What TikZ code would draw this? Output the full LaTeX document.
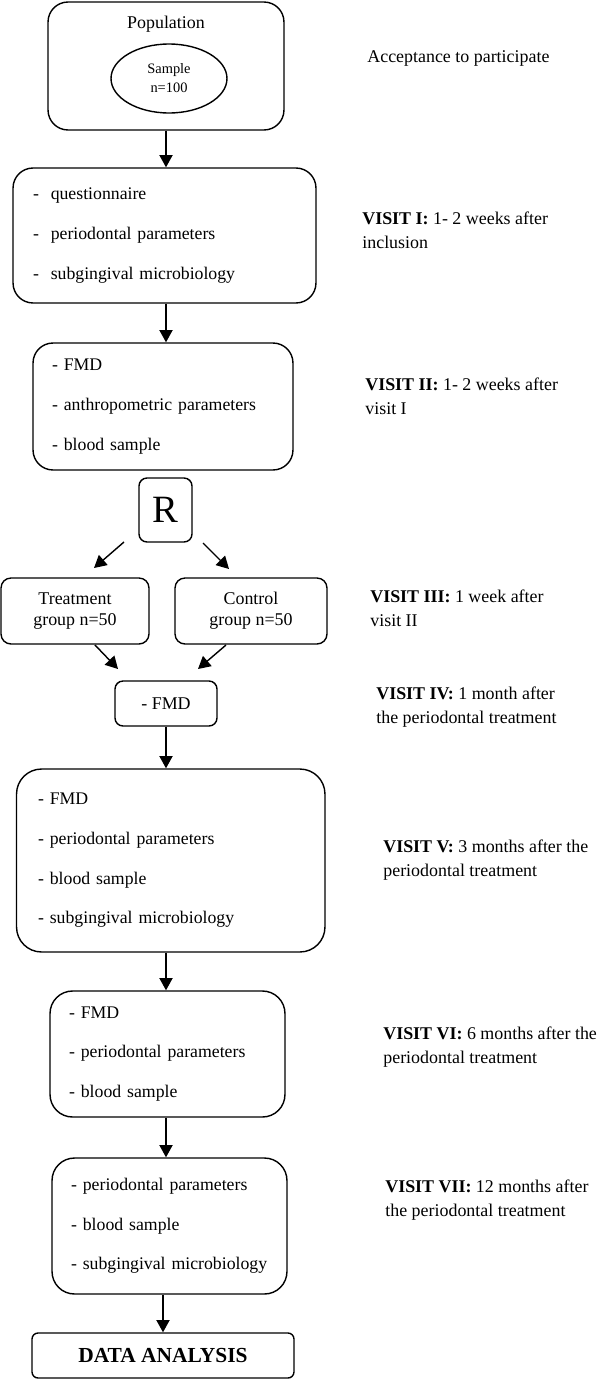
\documentclass[tikz,border=0pt]{standalone}
\usepackage{fontspec}
\setmainfont{Liberation Serif}
\usetikzlibrary{arrows.meta,shapes.geometric}

\tikzset{
  box/.style={draw, line width=0.8pt, rounded corners=#1},
  box/.default=0.2cm,
  list/.style={box=#1, align=left, inner xsep=0.4cm, font=\fontsize{10.1}{22.6}\selectfont},
  arr/.style={-{Triangle[length=7pt,width=7.5pt]}, line width=0.8pt},
  visit/.style={anchor=west, align=left, inner sep=0pt, font=\fontsize{10.2}{13.7}\selectfont}
}

\begin{document}
\begin{tikzpicture}[x=0.02cm, y=-0.02cm, font=\fontsize{10.2}{12}\selectfont]
    \useasboundingbox (0,0) rectangle (600,1379);
    % recruitment
    \node[box=0.4cm, minimum width=4.72cm, minimum height=2.56cm] (pop) at (166,66) {};
    \node (poptxt) at (166,24) {Population};
    \node[draw, ellipse, line width=0.8pt, inner sep=0pt, minimum width=2.32cm, minimum height=1.38cm,
          align=center, font=\fontsize{8.2}{10.8}\selectfont] (sample) at (169,78.5) {Sample\\n=100};
    % visits I and II
    \node[list=0.4cm, text width=5.26cm, minimum height=2.7cm] (vone) at (164.5,235.5)
        {-~~questionnaire\\-~~periodontal parameters\\-~~subgingival microbiology};
    \node[list=0.4cm, text width=4.44cm, inner xsep=0.38cm, minimum height=2.54cm] (vtwo) at (163,406.5)
        {- FMD\\- anthropometric parameters\\- blood sample};
    % randomisation
    \node[box=0.16cm, minimum width=1.06cm, minimum height=1.28cm, inner sep=0pt,
          font=\fontsize{22}{24}\selectfont] (rand) at (165.5,510) {R};
    \node[box, minimum width=2.96cm, minimum height=1.32cm, align=center] (treat) at (75,611) {Treatment\\group n=50};
    \node[box, minimum width=3.04cm, minimum height=1.32cm, align=center] (ctrl) at (251,611) {Control\\group n=50};
    \node[box=0.16cm, minimum width=2.04cm, minimum height=0.9cm] (vfour) at (166,703.5) {- FMD};
    % follow-up
    \node[list=0.5cm, text width=5.31cm, inner xsep=0.43cm, minimum height=3.66cm] (vfive) at (170.75,860.5)
        {- FMD\\- periodontal parameters\\- blood sample\\- subgingival microbiology};
    \node[list=0.45cm, text width=3.94cm, inner xsep=0.38cm, minimum height=2.52cm] (vsix) at (167.5,1054)
        {- FMD\\- periodontal parameters\\- blood sample};
    \node[list=0.45cm, text width=3.94cm, inner xsep=0.38cm, minimum height=2.72cm] (vseven) at (169.5,1226)
        {- periodontal parameters\\- blood sample\\- subgingival microbiology};
    \node[box=0.12cm, minimum width=5.24cm, minimum height=0.9cm,
          font=\bfseries\fontsize{12.2}{14}\selectfont] (data) at (163,1355.5) {DATA ANALYSIS};
    % arrows
    \draw[arr] (pop.south) -- (pop.south |- vone.north);
    \draw[arr] (pop.south |- vone.south) -- (pop.south |- vtwo.north);
    \coordinate (ra) at (124,542);
    \coordinate (rb) at (94,568);
    \coordinate (rc) at (203,543);
    \coordinate (rd) at (229,569);
    \coordinate (ta) at (95,645);
    \coordinate (tb) at (118,669);
    \coordinate (ca) at (226,645);
    \coordinate (cb) at (198,669);
    \draw[arr] (ra) -- (rb);
    \draw[arr] (rc) -- (rd);
    \draw[arr] (ta) -- (tb);
    \draw[arr] (ca) -- (cb);
    \draw[arr] (vfour.south) -- (vfour.south |- vfive.north);
    \draw[arr] (vfour.south |- vfive.south) -- (vfour.south |- vsix.north);
    \draw[arr] (vfour.south |- vsix.south) -- (vfour.south |- vseven.north);
    \draw[arr] (data.north |- vseven.south) -- (data.north);
    % time line
    \node[visit] (lzero) at (367,58) {Acceptance to participate};
    \node[visit] (lone) at (362,230) {\textbf{VISIT I:} 1- 2 weeks after\\inclusion};
    \node[visit] (ltwo) at (365,396.5) {\textbf{VISIT II:} 1- 2 weeks after\\visit I};
    \node[visit] (lthree) at (370,608) {\textbf{VISIT III:} 1 week after\\visit II};
    \node[visit] (lfour) at (376,707) {\textbf{VISIT IV:} 1 month after\\the periodontal treatment};
    \node[visit] (lfive) at (383,860) {\textbf{VISIT V:} 3 months after the\\periodontal treatment};
    \node[visit] (lsix) at (383,1047) {\textbf{VISIT VI:} 6 months after the\\periodontal treatment};
    \node[visit] (lseven) at (385,1200) {\textbf{VISIT VII:} 12 months after\\the periodontal treatment};
\end{tikzpicture}
\end{document}
